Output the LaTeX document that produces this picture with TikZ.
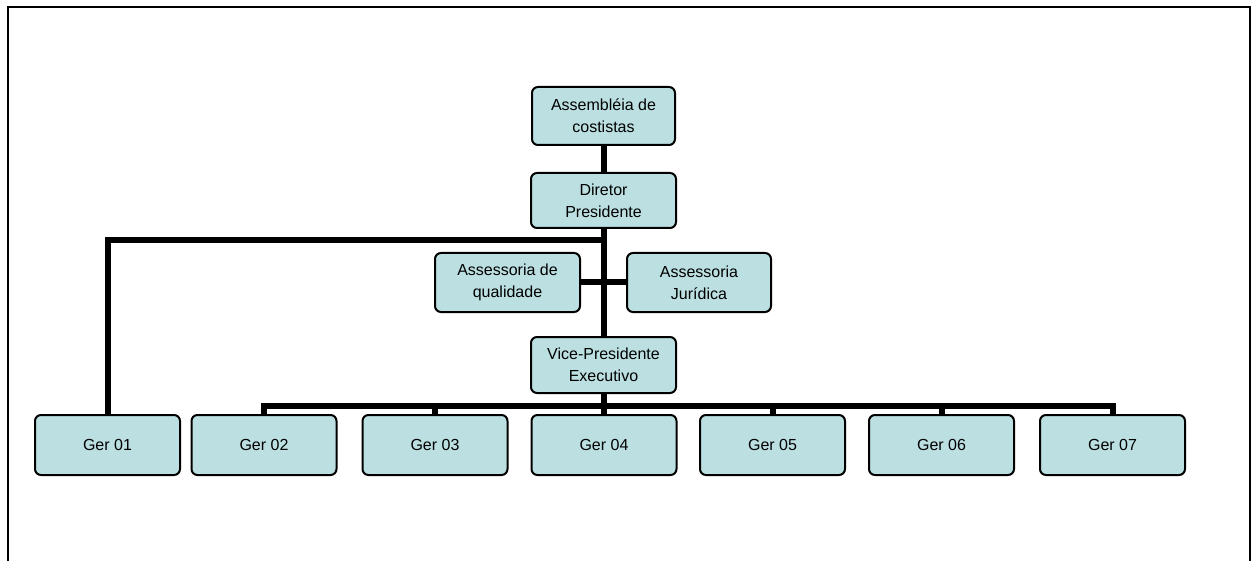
\documentclass[tikz,border=0pt]{standalone}
\usepackage{fontspec}
\setmainfont{Liberation Sans}
\definecolor{boxfill}{RGB}{188,224,226}
\begin{document}
\begin{tikzpicture}[x=1pt,y=-1pt,
  orgbox/.style={draw=black, line width=2pt, fill=boxfill, rounded corners=6pt,
    minimum width=145pt, minimum height=58pt, inner sep=0pt, align=center,
    font=\fontsize{16}{22}\selectfont},
  link/.style={line width=6pt, black}]
\useasboundingbox (0,0) rectangle (1255,561);
\fill[white] (0,0) rectangle (1255,561);
% page frame (open at the bottom)
\draw[line width=2pt] (7.5,561) -- (7.5,7.5) -- (1250,7.5) -- (1250,561);

% upper hierarchy
\node[orgbox, minimum width=143pt] (assem) at (603.5,116) {Assembléia de\\costistas};
\node[orgbox, minimum height=55pt] (dir) at (603.5,200.5) {Diretor\\Presidente};
\node[orgbox, minimum height=59pt] (qual) at (507.5,282.5) {Assessoria de\\qualidade};
\node[orgbox, minimum width=144pt, minimum height=59pt] (jur) at (699,282.5) {Assessoria\\Jurídica};
\node[orgbox, minimum height=56pt] (vice) at (603.5,365) {Vice-Presidente\\Executivo};

% managers
\foreach \n/\x in {1/107.5, 2/264, 3/435, 4/604, 5/772.5, 6/941.5, 7/1112.5}
  \node[orgbox, minimum height=60pt] (ger\n) at (\x,445) {Ger 0\n};

\coordinate (tee) at (603.5,240);
\coordinate (bus) at (603.5,405.5);

% connectors
\draw[link] (assem) -- (dir);
\draw[link] (dir) -- (vice);
\draw[link] (qual) -- (jur);
\draw[link] (tee) -| (ger1);
\draw[link] (vice) -- (bus);
\draw[link, line cap=rect] (ger2 |- bus) -- (ger7 |- bus);
\foreach \n in {2,...,7}
  \draw[link] (ger\n |- bus) -- (ger\n.north);
\end{tikzpicture}
\end{document}
